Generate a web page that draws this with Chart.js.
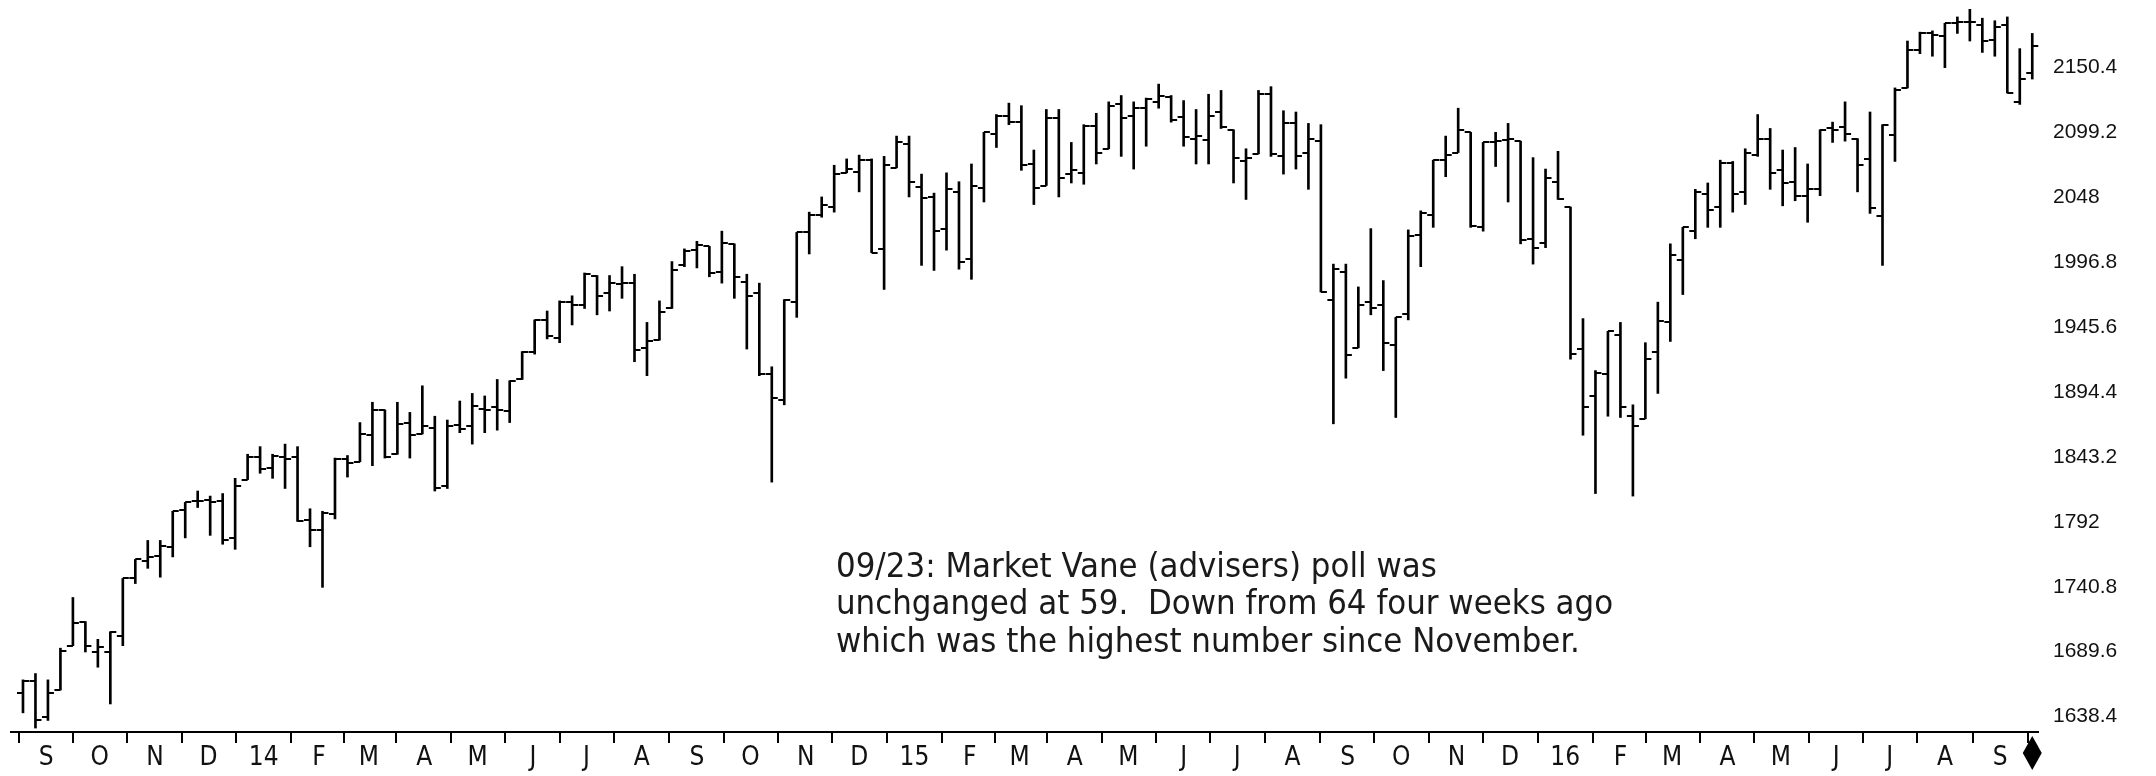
<!DOCTYPE html>
<html>
<head>
<meta charset="utf-8">
<script src="https://cdn.jsdelivr.net/npm/chart.js@4.4.1/dist/chart.umd.min.js"></script>
<style>
  html, body { margin: 0; padding: 0; background: #fff; }
</style>
</head>
<body>
<canvas id="spx" width="2156" height="776"></canvas>
<script>
// weekly bars, first bar = week of 2013-08-19
const firstWeek = '2013-08-19';
const opens = [1655,1664,1636,1657,1692,1711,1687,1687,1700,1745,1759,1763,1770,1799,1806,1807,1806,1777,1823,1841,
  1832,1841,1841,1791,1783,1796,1839,1837,1858,1878,1843,1868,1859,1864,1818,1866,1865,1879,1880,1877,
  1902,1924,1949,1935,1963,1961,1984,1970,1977,1978,1927,1933,1958,1992,2004,2007,1987,2009,1979,1970,
  1906,1886,1963,2018,2032,2038,2065,2066,2075,2005,2069,2088,2054,2046,2021,2050,1997,2053,2096,2110,
  2105,2072,2055,2108,2064,2065,2102,2084,2119,2110,2116,2121,2125,2109,2092,2091,2113,2099,2074,2080,
  2127,2078,2104,2081,2090,1965,1987,1927,1963,1961,1929,1954,2016,2032,2075,2081,2097,2022,2089,2091,
  2090,2013,2010,2058,2038,1926,1889,1906,1937,1873,1871,1924,1947,1996,2019,2048,2038,2073,2050,2079,
  2092,2067,2058,2047,2052,2100,2101,2092,2076,2031,2095,2132,2162,2175,2173,2183,2184,2182,2170,2182,
  2121,2144];
const highs = [1665,1670,1665,1690,1730,1711,1697,1703,1745,1760,1775,1775,1798,1805,1814,1810,1812,1824,1843,1849,
  1843,1851,1849,1800,1798,1840,1842,1868,1884,1878,1884,1876,1897,1873,1870,1885,1891,1889,1902,1901,
  1924,1949,1956,1964,1968,1986,1984,1984,1991,1985,1947,1964,1995,2005,2011,2007,2019,2009,1985,1978,
  1912,1965,2018,2034,2046,2071,2076,2079,2076,2078,2094,2094,2064,2049,2065,2058,2072,2097,2111,2120,
  2118,2083,2115,2115,2089,2103,2112,2121,2126,2121,2124,2135,2126,2122,2115,2127,2130,2099,2084,2130,
  2133,2114,2113,2104,2103,1993,1993,1975,2021,1980,1951,2020,2035,2075,2094,2116,2097,2089,2097,2104,
  2090,2077,2068,2082,2038,1950,1909,1940,1947,1882,1931,1963,2009,2022,2052,2057,2075,2074,2084,2111,
  2100,2083,2085,2072,2099,2105,2121,2092,2113,2103,2132,2169,2176,2177,2183,2188,2194,2187,2185,2188,
  2163,2175];
const lows = [1639,1627,1633,1657,1692,1687,1675,1646,1692,1741,1753,1746,1762,1777,1801,1779,1772,1768,1823,1828,
  1824,1816,1790,1770,1738,1792,1825,1837,1834,1840,1843,1840,1859,1814,1816,1860,1851,1860,1862,1868,
  1902,1922,1934,1931,1945,1958,1953,1956,1966,1916,1905,1933,1958,1991,1990,1983,1978,1966,1926,1905,
  1821,1882,1951,2001,2030,2034,2065,2050,2002,1973,2069,2046,1992,1988,2004,1989,1981,2042,2085,2103,
  2067,2040,2055,2046,2057,2056,2072,2084,2078,2068,2086,2116,2105,2086,2072,2072,2100,2057,2044,2080,
  2078,2064,2068,2052,1971,1867,1903,1927,1953,1909,1872,1949,1991,2022,2062,2081,2022,2019,2070,2042,
  2009,1993,2006,2044,1918,1858,1812,1873,1872,1810,1871,1891,1932,1969,2013,2022,2022,2034,2040,2078,
  2052,2039,2043,2026,2047,2089,2090,2050,2033,1992,2074,2132,2159,2157,2148,2175,2169,2160,2157,2128,
  2119,2139];
const closes = [1664,1633,1655,1688,1710,1692,1691,1703,1745,1760,1762,1771,1798,1805,1806,1805,1775,1818,1841,1831,
  1842,1839,1790,1783,1797,1839,1836,1859,1878,1841,1867,1858,1865,1816,1865,1863,1881,1878,1878,1901,
  1924,1949,1936,1963,1961,1985,1968,1978,1978,1925,1932,1955,1988,2003,2008,1986,2010,1983,1968,1906,
  1887,1965,2018,2032,2040,2064,2068,2075,2002,2071,2089,2058,2045,2019,2052,1995,2055,2097,2110,2105,
  2071,2053,2108,2061,2067,2102,2081,2118,2108,2116,2123,2126,2107,2093,2094,2110,2101,2077,2077,2127,
  2080,2104,2078,2092,1971,1989,1921,1961,1958,1931,1951,2015,2033,2075,2079,2099,2023,2089,2090,2092,
  2012,2006,2061,2044,1922,1880,1907,1940,1880,1865,1918,1948,2000,2022,2050,2036,2073,2048,2081,2092,
  2065,2057,2047,2052,2099,2099,2096,2071,2037,2103,2130,2162,2175,2174,2183,2184,2184,2169,2180,2128,
  2139,2165];

const monthStarts = ['2013-09-01','2013-10-01','2013-11-01','2013-12-01','2014-01-01','2014-02-01','2014-03-01',
  '2014-04-01','2014-05-01','2014-06-01','2014-07-01','2014-08-01','2014-09-01','2014-10-01','2014-11-01',
  '2014-12-01','2015-01-01','2015-02-01','2015-03-01','2015-04-01','2015-05-01','2015-06-01','2015-07-01',
  '2015-08-01','2015-09-01','2015-10-01','2015-11-01','2015-12-01','2016-01-01','2016-02-01','2016-03-01',
  '2016-04-01','2016-05-01','2016-06-01','2016-07-01','2016-08-01','2016-09-01'];
const monthLabels = ['S','O','N','D','14','F','M','A','M','J','J','A','S','O','N','D','15','F','M','A','M',
  'J','J','A','S','O','N','D','16','F','M','A','M','J','J','A','S'];
const yTicks = [1638.4, 1689.6, 1740.8, 1792, 1843.2, 1894.4, 1945.6, 1996.8, 2048, 2099.2, 2150.4];

const note = [
  '09/23: Market Vane (advisers) poll was',
  'unchganged at 59.  Down from 64 four weeks ago',
  'which was the highest number since November.'
];

const weekOf = d => (Date.parse(d) - Date.parse(firstWeek)) / (7 * 864e5);
const monthPos = monthStarts.map(weekOf);

const noPad = s => { s.paddingTop = 0; s.paddingBottom = 0; s.paddingLeft = 0; s.paddingRight = 0; };

// open tick left, close tick right, diamond under last bar, note text
const ohlcExtras = {
  id: 'ohlcExtras',
  afterDatasetsDraw(chart) {
    const { ctx, scales: { x, y } } = chart;
    ctx.save();
    ctx.strokeStyle = '#000';
    ctx.lineWidth = 2;
    ctx.beginPath();
    opens.forEach((o, i) => {
      const px = x.getPixelForValue(i);
      const yo = Math.round(y.getPixelForValue(o));
      const yc = Math.round(y.getPixelForValue(closes[i]));
      ctx.moveTo(px - 6, yo); ctx.lineTo(px, yo);
      ctx.moveTo(px, yc); ctx.lineTo(px + 6, yc);
    });
    ctx.stroke();
    ctx.restore();
  },
  afterDraw(chart) {
    const { ctx, scales: { x } } = chart;
    const px = x.getPixelForValue(opens.length - 1);
    const top = x.top;
    ctx.save();
    ctx.fillStyle = '#000';
    ctx.beginPath();
    ctx.moveTo(px, top + 4);
    ctx.lineTo(px + 9.5, top + 21);
    ctx.lineTo(px, top + 38);
    ctx.lineTo(px - 9.5, top + 21);
    ctx.closePath();
    ctx.fill();

    ctx.font = '100px "DejaVu Sans Condensed"';
    const size = 100 * 745 / ctx.measureText(note[2]).width;
    ctx.font = size.toFixed(1) + 'px "DejaVu Sans Condensed"';
    ctx.fillStyle = '#1a1a1a';
    ctx.textBaseline = 'middle';
    note.forEach((t, i) => ctx.fillText(t, 836, 568 + i * 37.5));
    ctx.restore();
  }
};

new Chart(document.getElementById('spx'), {
  type: 'bar',
  data: {
    datasets: [{
      data: opens.map((o, i) => ({ x: i, y: [lows[i], highs[i]] })),
      backgroundColor: '#000',
      borderWidth: 0,
      barThickness: 2
    }]
  },
  options: {
    responsive: false,
    animation: false,
    layout: { padding: { left: 11, top: 0, right: 0, bottom: 0 } },
    plugins: { legend: { display: false }, tooltip: { enabled: false } },
    scales: {
      x: {
        type: 'linear',
        min: -0.96,
        max: 161.46,
        offset: false,
        border: { display: true, color: '#000', width: 2 },
        grid: { drawOnChartArea: false, drawTicks: true, tickLength: 11, color: '#000', lineWidth: 2 },
        ticks: {
          autoSkip: false,
          maxRotation: 0,
          padding: 0,
          color: '#111',
          font: { family: '"Liberation Sans Narrow", "DejaVu Sans Condensed", sans-serif', size: 26 },
          callback: (v, i) => monthLabels[i]
        },
        afterBuildTicks: s => { s.ticks = monthPos.map(v => ({ value: v })); },
        afterFit: s => { s.height = 44; noPad(s); }
      },
      y: {
        position: 'right',
        min: 1623.88,
        max: 2201.36,
        border: { display: false },
        grid: { display: false, drawTicks: false },
        ticks: {
          padding: 15,
          labelOffset: 3,
          color: '#111',
          font: { family: '"Liberation Sans", Arial, sans-serif', size: 21 },
          callback: v => String(Math.round(v * 10) / 10)
        },
        afterBuildTicks: s => { s.ticks = yTicks.map(v => ({ value: v })); },
        afterFit: s => { s.width = 118; noPad(s); }
      }
    }
  },
  plugins: [ohlcExtras]
});
</script>
</body>
</html>
